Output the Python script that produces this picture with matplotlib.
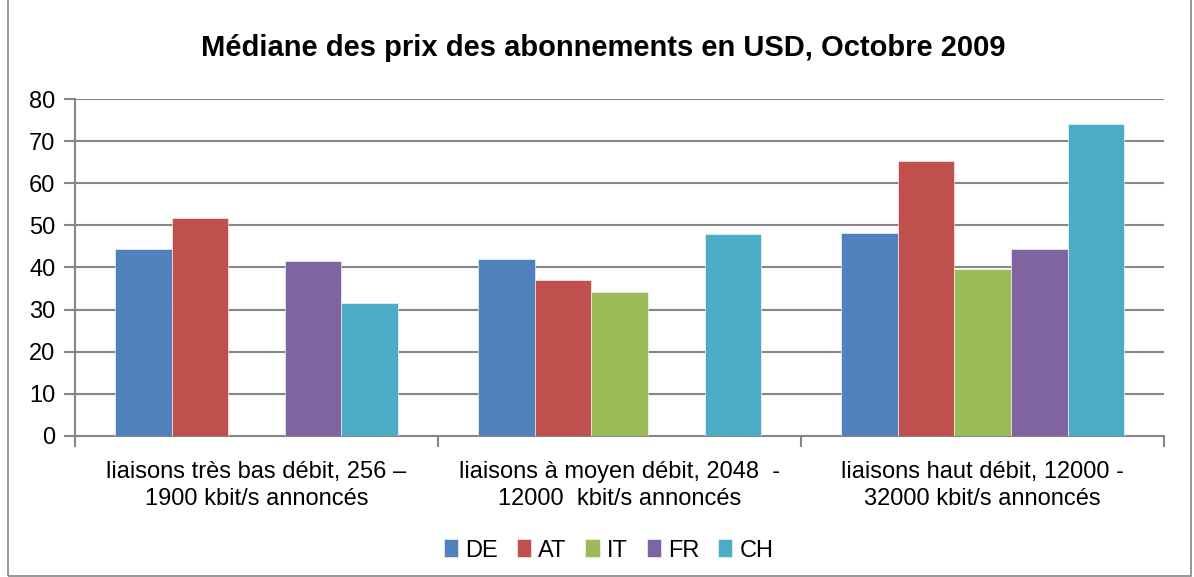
import matplotlib.pyplot as plt
import numpy as np
from matplotlib.patches import Rectangle

# data
categories = ["liaisons très bas débit, 256 –\n1900 kbit/s annoncés",
              "liaisons à moyen débit, 2048  -\n12000  kbit/s annoncés",
              "liaisons haut débit, 12000 -\n32000 kbit/s annoncés"]
series = ["DE", "AT", "IT", "FR", "CH"]
DE = [44.4, 41.9, 48.3]
AT = [51.8, 37.0, 65.2]
IT = [np.nan, 34.1, 39.6]
FR = [41.5, np.nan, 44.4]
CH = [31.6, 47.9, 74.0]
values = [DE, AT, IT, FR, CH]
colors = ["#4F81BD", "#C0504D", "#9BBB59", "#8064A2", "#4BACC6"]

plt.rcParams['font.family'] = ["Liberation Sans", "DejaVu Sans"]

fig = plt.figure(figsize=(11.94, 5.77), dpi=100)
ax = fig.add_axes([0.0628, 0.2444, 0.975 - 0.0628, 0.8284 - 0.2444])

x = np.arange(len(categories))
w = 0.156
for i, (name, vals) in enumerate(zip(series, values)):
    ax.bar(x + (i - 2) * w, vals, w, color=colors[i], label=name,
           edgecolor="white", linewidth=0.4, zorder=3)

ax.set_xlim(-0.5, 2.5)
ax.set_ylim(0, 80)
ax.set_yticks(range(0, 81, 10))
ax.yaxis.grid(True, color="#868686", linewidth=1.5, zorder=0)

grey = "#868686"
for s in ["top", "right"]:
    ax.spines[s].set_visible(False)
for s in ["left", "bottom"]:
    ax.spines[s].set_color(grey)
    ax.spines[s].set_linewidth(1.5)

ax.tick_params(axis="y", length=8, width=1.5, color=grey, labelsize=17, pad=6)
ax.set_xticks([-0.5, 0.5, 1.5, 2.5])
ax.set_xticklabels([])
ax.tick_params(axis="x", which="major", length=8, width=1.5, color=grey)
ax.set_xticks(x, minor=True)
ax.set_xticklabels(categories, minor=True, fontsize=17, linespacing=1.3)
ax.tick_params(axis="x", which="minor", length=0, pad=18)

fig.text(603 / 1194, 1 - 48 / 577,
         "Médiane des prix des abonnements en USD, Octobre 2009",
         fontsize=21, fontweight="bold", ha="center", va="center")

ax.legend(loc="center", bbox_to_anchor=(0.49, -0.34), ncol=5, frameon=False,
          fontsize=17, handlelength=0.6, handleheight=0.8,
          handletextpad=0.3, columnspacing=0.8)

fig.patches.append(Rectangle((8 / 1194, 0.002), 1 - 11 / 1194, 1.1,
                             transform=fig.transFigure, fill=False,
                             edgecolor=grey, linewidth=1.2))

plt.savefig("out.png", dpi=100)
